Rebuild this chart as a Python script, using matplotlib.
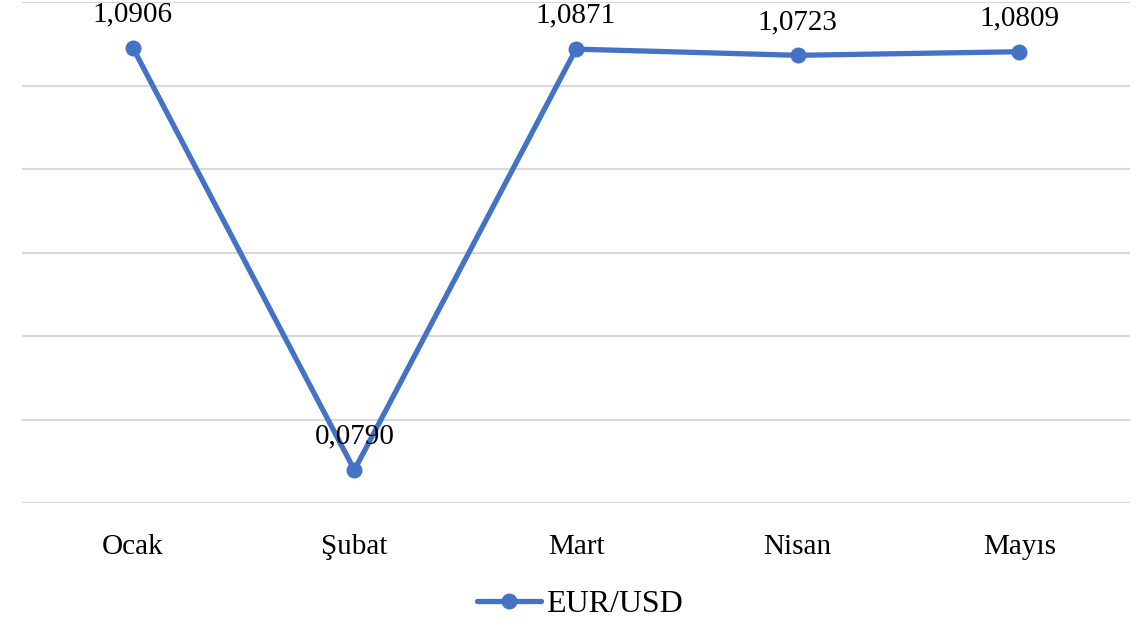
import matplotlib
matplotlib.use("Agg")
import matplotlib.pyplot as plt

months = ["Ocak", "Şubat", "Mart", "Nisan", "Mayıs"]
values = [1.0906, 0.0790, 1.0871, 1.0723, 1.0809]
labels = ["1,0906", "0,0790", "1,0871", "1,0723", "1,0809"]
series_name = "EUR/USD"

plt.rcParams['font.family'] = ['Liberation Serif', 'DejaVu Serif']

fig = plt.figure(figsize=(11.38, 6.29), dpi=100)
ax = fig.add_axes([22/1138, (629-503)/629, (1130-22)/1138, 501/629])

x = list(range(len(months)))
color = "#4472C4"
line, = ax.plot(x, values, color=color, lw=3.8, marker="o", markersize=10.5,
                solid_capstyle="round", label=series_name, clip_on=False, zorder=3)

for xi, v, lab in zip(x, values, labels):
    ax.annotate(lab, (xi, v), xytext=(0, 24), textcoords="offset points",
                ha="center", va="center", fontsize=21, color="black")

ax.set_xlim(-0.5, 4.5)
ax.set_ylim(0, 1.2)
ax.set_yticks([0, 0.2, 0.4, 0.6, 0.8, 1.0, 1.2])
ax.set_yticklabels([])
ax.tick_params(axis="y", length=0)
ax.tick_params(axis="x", length=0, labelsize=21, pad=22)
ax.set_xticks(x)
ax.set_xticklabels(months)
ax.grid(axis="y", color="#D9D9D9", lw=1.5)
ax.set_axisbelow(True)
for s in ax.spines.values():
    s.set_visible(False)

fig.legend(handles=[line], labels=[series_name], loc="center",
           bbox_to_anchor=(580/1138, 1 - 604/629), frameon=False,
           fontsize=23, handlelength=2.0, handletextpad=0.15)

fig.savefig("out.png", dpi=100, facecolor="white")
